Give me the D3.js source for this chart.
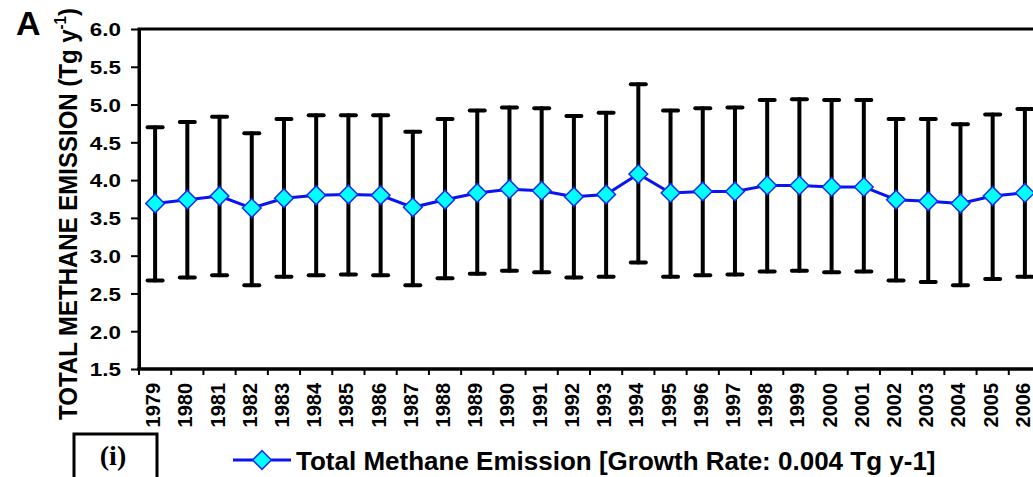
<!DOCTYPE html>
<html>
<head>
<meta charset="utf-8">
<script src="https://cdn.jsdelivr.net/npm/d3@7"></script>
<style>
  html, body { margin: 0; padding: 0; background: #fff; }
  svg { display: block; font-family: "Liberation Sans", Arial, sans-serif; }
</style>
</head>
<body>
<svg id="chart" width="1033" height="477"></svg>
<script>
// Annual total methane emission with uncertainty range (Tg per year)
const years = ["1979","1980","1981","1982","1983","1984","1985","1986","1987","1988",
               "1989","1990","1991","1992","1993","1994","1995","1996","1997","1998",
               "1999","2000","2001","2002","2003","2004","2005","2006"];
const emission = [3.69, 3.74, 3.79, 3.63, 3.76, 3.80, 3.81, 3.80, 3.64, 3.74,
                  3.83, 3.88, 3.86, 3.78, 3.81, 4.08, 3.83, 3.85, 3.85, 3.93,
                  3.93, 3.91, 3.91, 3.74, 3.72, 3.69, 3.79, 3.83];
const upper = [4.70, 4.77, 4.84, 4.62, 4.81, 4.86, 4.86, 4.86, 4.64, 4.81,
               4.92, 4.96, 4.95, 4.85, 4.89, 5.27, 4.92, 4.95, 4.96, 5.06,
               5.07, 5.06, 5.06, 4.81, 4.81, 4.74, 4.87, 4.94];
const lower = [2.67, 2.71, 2.74, 2.61, 2.72, 2.74, 2.75, 2.74, 2.61, 2.70,
               2.76, 2.80, 2.78, 2.71, 2.72, 2.91, 2.72, 2.74, 2.75, 2.79,
               2.80, 2.78, 2.79, 2.67, 2.65, 2.61, 2.69, 2.72];
const yTicks = [1.5, 2.0, 2.5, 3.0, 3.5, 4.0, 4.5, 5.0, 5.5, 6.0];
const yTitle = "TOTAL METHANE EMISSION (Tg y";
const legendLabel = "Total Methane Emission [Growth Rate: 0.004 Tg y-1]";

const svg = d3.select("#chart");
const plot = { left: 139, right: 1041, top: 29, bottom: 369 };

const x = d3.scaleBand().domain(years).range([plot.left, plot.right]);
const y = d3.scaleLinear().domain([1.5, 6.0]).range([plot.bottom, plot.top]);

// panel frame (top edge; right edge lies beyond the view)
svg.append("rect")
  .attr("x", plot.left).attr("y", plot.top)
  .attr("width", plot.right - plot.left).attr("height", plot.bottom - plot.top)
  .attr("fill", "none").attr("stroke", "#000").attr("stroke-width", 3);

// y axis
const yAxis = svg.append("g")
  .attr("transform", `translate(${plot.left},0)`)
  .call(d3.axisLeft(y).tickValues(yTicks).tickFormat(d3.format(".1f")).tickSize(8).tickSizeOuter(0));
yAxis.select(".domain").attr("stroke-width", 3);
yAxis.selectAll(".tick line").attr("stroke-width", 2);
yAxis.selectAll(".tick text")
  .attr("x", 0).attr("dy", "0.36em")
  .attr("transform", "translate(-18,0) scale(1.18,1)")
  .attr("font-size", 19).attr("font-weight", "bold").attr("fill", "#000");

// x axis: ticks on category boundaries
const xAxisG = svg.append("g").attr("transform", `translate(0,${plot.bottom})`);
xAxisG.append("line")
  .attr("x1", plot.left - 2).attr("x2", plot.right)
  .attr("stroke", "#000").attr("stroke-width", 3);
xAxisG.selectAll("line.bnd")
  .data(years)
  .join("line")
  .attr("class", "bnd")
  .attr("x1", d => x(d)).attr("x2", d => x(d))
  .attr("y1", 0).attr("y2", 6)
  .attr("stroke", "#000").attr("stroke-width", 2);
xAxisG.selectAll("text")
  .data(years)
  .join("text")
  .attr("transform", d => `translate(${x(d) + x.bandwidth() / 2 + 5},14) rotate(-90) scale(1,1.05)`)
  .attr("text-anchor", "end")
  .attr("font-size", 20).attr("font-weight", "bold")
  .text(d => d);

// error bars
const capW = 15;
const bars = svg.append("g").attr("stroke", "#000").attr("stroke-width", 4).attr("stroke-linecap", "round");
years.forEach((yr, i) => {
  const cx = x(yr) + x.bandwidth() / 2;
  bars.append("line").attr("x1", cx).attr("x2", cx).attr("y1", y(upper[i])).attr("y2", y(lower[i]));
  bars.append("line").attr("x1", cx - capW / 2).attr("x2", cx + capW / 2).attr("y1", y(upper[i])).attr("y2", y(upper[i]));
  bars.append("line").attr("x1", cx - capW / 2).attr("x2", cx + capW / 2).attr("y1", y(lower[i])).attr("y2", y(lower[i]));
});

// emission line
const line = d3.line()
  .x((d, i) => x(years[i]) + x.bandwidth() / 2)
  .y(d => y(d));
svg.append("path")
  .datum(emission)
  .attr("d", line)
  .attr("fill", "none").attr("stroke", "#0a14f0").attr("stroke-width", 3);

// diamond markers
const diamond = d3.symbol().type(d3.symbolSquare).size(175);
svg.append("g").selectAll("path")
  .data(emission)
  .join("path")
  .attr("d", diamond)
  .attr("transform", (d, i) => `translate(${x(years[i]) + x.bandwidth() / 2},${y(d)}) rotate(45)`)
  .attr("fill", "#00ffff").attr("stroke", "#1a2cf0").attr("stroke-width", 1.5);

// y axis title with superscript
const title = svg.append("text")
  .attr("transform", "translate(77,214) rotate(-90) scale(1,1.1)")
  .attr("text-anchor", "middle")
  .attr("font-size", 24).attr("font-weight", "bold");
title.append("tspan").text(yTitle);
title.append("tspan").attr("font-size", 15).attr("dy", -10).text("-1");
title.append("tspan").attr("dy", 10).text(")");

// panel letter
svg.append("text").attr("x", 16).attr("y", 35)
  .attr("font-size", 34).attr("font-weight", "bold").text("A");

// sub-panel label box
svg.append("rect").attr("x", 74).attr("y", 434).attr("width", 83).attr("height", 60)
  .attr("fill", "none").attr("stroke", "#000").attr("stroke-width", 3);
svg.append("text").attr("x", 113).attr("y", 465)
  .attr("text-anchor", "middle")
  .attr("font-family", "'Liberation Serif', 'Times New Roman', serif")
  .attr("font-size", 28).attr("font-weight", "bold").text("(i)");

// legend
const lg = svg.append("g").attr("transform", "translate(233,460)");
lg.append("line").attr("x1", 0).attr("x2", 58).attr("stroke", "#0a14f0").attr("stroke-width", 3);
lg.append("path").attr("d", diamond).attr("transform", "translate(29,0) rotate(45)")
  .attr("fill", "#00ffff").attr("stroke", "#1a2cf0").attr("stroke-width", 1.5);
lg.append("text").attr("x", 63).attr("y", 10)
  .attr("font-size", 26).attr("font-weight", "bold").text(legendLabel);
</script>
</body>
</html>
